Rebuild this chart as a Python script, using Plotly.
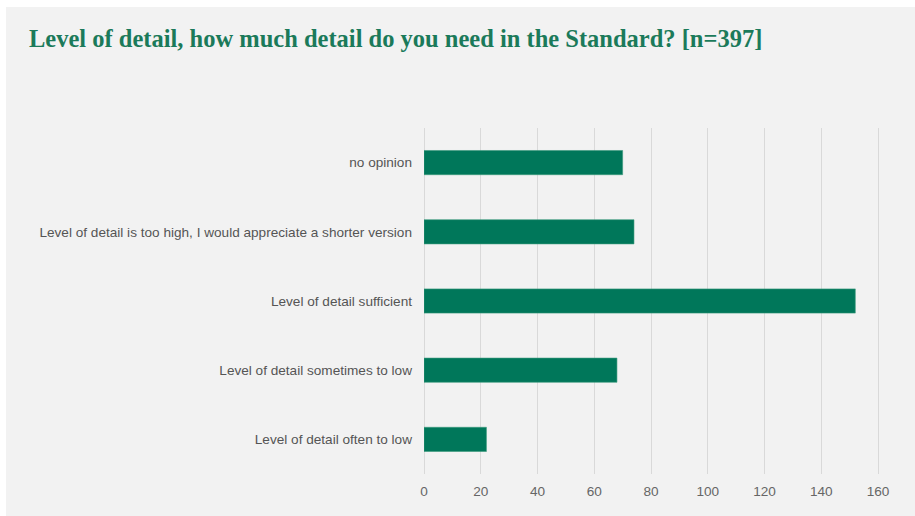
import plotly.graph_objects as go

categories = [
    "no opinion",
    "Level of detail is too high, I would appreciate a shorter version",
    "Level of detail sufficient",
    "Level of detail sometimes to low",
    "Level of detail often to low",
]
values = [70, 74, 152, 68, 22]
x_ticks = [0, 20, 40, 60, 80, 100, 120, 140, 160]

W, H = 915, 516
ml, mr, mt, mb = 424, 20, 128, 42

fig = go.Figure(go.Bar(
    x=values, y=categories, orientation="h",
    marker=dict(color="#00775a", line=dict(color="#3a9a7c", width=0.6)),
    width=0.35,
))

pw = W - ml - mr
ph = H - mt - mb
fig.add_shape(type="rect", xref="paper", yref="paper",
              x0=(6 - ml) / pw, x1=(W + 10 - ml) / pw,
              y0=-(mb + 10) / ph, y1=(H - 7 - mb) / ph,
              fillcolor="#f2f2f2", line=dict(width=0), layer="below")

fig.update_layout(
    width=W, height=H,
    margin=dict(l=ml, r=mr, t=mt, b=mb),
    paper_bgcolor="white",
    plot_bgcolor="rgba(0,0,0,0)",
    showlegend=False,
    title=dict(
        text="Level of detail, how much detail do you need in the Standard? [n=397]",
        font=dict(family="Liberation Serif", size=24.5, color="#1b7a5a", weight="bold"),
        x=29 / W, xanchor="left", xref="container",
        y=1 - 38 / H, yanchor="middle", yref="container",
    ),
    font=dict(family="Liberation Sans, Arial", size=13.6, color="#555555"),
)
fig.update_xaxes(
    range=[0, (W - mr - ml) / 2.8375],
    tickvals=x_ticks,
    showgrid=True, gridcolor="#d9d9d9", gridwidth=1,
    zeroline=True, zerolinecolor="#d9d9d9", zerolinewidth=1,
    showline=False, ticks="",
    ticklabelstandoff=7,
    tickfont=dict(size=13.6, color="#666666"),
    fixedrange=True,
)
fig.update_yaxes(
    categoryorder="array", categoryarray=categories[::-1],
    range=[-0.5, 4.5],
    showgrid=False, zeroline=False, showline=False, ticks="",
    ticklabelstandoff=11,
    tickfont=dict(size=13.6, color="#555555"),
    fixedrange=True,
)

fig.write_html("out.html", config={"displayModeBar": False},
               post_script="document.body.style.margin='0';")
